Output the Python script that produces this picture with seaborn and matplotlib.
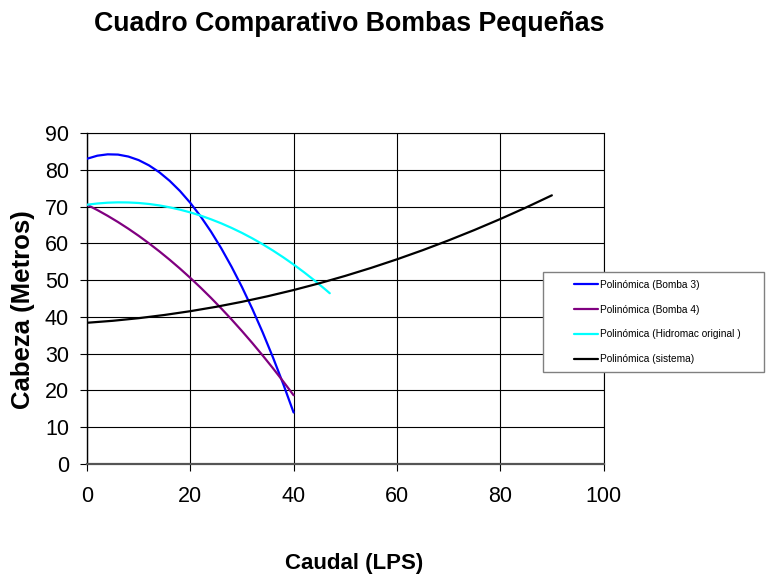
import matplotlib
matplotlib.use("Agg")
import matplotlib.pyplot as plt
import seaborn as sns
import pandas as pd
from matplotlib.patches import Rectangle

# ---- data ----
x_b3 = [0, 2, 4, 6, 8, 10, 12, 14, 16, 18, 20, 22, 24, 26, 28, 30, 32, 34, 36, 38, 40]
y_b3 = [83.0, 83.83, 84.2, 84.13, 83.6, 82.63, 81.2, 79.33, 77.0, 74.23, 71.0,
        67.33, 63.2, 58.63, 53.6, 48.13, 42.2, 35.83, 29.0, 21.73, 14.0]

x_b4 = [0, 2, 4, 6, 8, 10, 12, 14, 16, 18, 20, 22, 24, 26, 28, 30, 32, 34, 36, 38, 40]
y_b4 = [70.5, 69.05, 67.48, 65.79, 63.98, 62.05, 60.0, 57.83, 55.54, 53.13, 50.6,
        47.95, 45.18, 42.29, 39.28, 36.15, 32.9, 29.53, 26.04, 22.43, 18.7]

x_hid = [0, 2, 4, 6, 8, 10, 12, 14, 16, 18, 20, 22, 24, 26, 28, 30, 32, 34, 36, 38,
         40, 42, 44, 46, 47]
y_hid = [70.5, 70.83, 71.05, 71.14, 71.11, 70.97, 70.7, 70.31, 69.79, 69.16, 68.41,
         67.54, 66.54, 65.43, 64.19, 62.84, 61.36, 59.76, 58.04, 56.2, 54.24, 52.16,
         49.96, 47.63, 46.43]

x_sis = [0, 5, 10, 15, 20, 25, 30, 35, 40, 45, 50, 55, 60, 65, 70, 75, 80, 85, 90]
y_sis = [38.4, 38.94, 39.65, 40.52, 41.55, 42.74, 44.1, 45.62, 47.3, 49.14, 51.15,
         53.32, 55.65, 58.14, 60.8, 63.62, 66.6, 69.74, 73.05]

series_names = ["Polinómica (Bomba 3)", "Polinómica (Bomba 4)",
                "Polinómica (Hidromac original )", "Polinómica (sistema)"]
series_colors = ["#0000FF", "#800080", "#00FFFF", "#000000"]

x_ticks = [0, 20, 40, 60, 80, 100]
y_ticks = [0, 10, 20, 30, 40, 50, 60, 70, 80, 90]

title_text = "Cuadro Comparativo Bombas Pequeñas"
x_label = "Caudal (LPS)"
y_label = "Cabeza (Metros)"

# ---- build long-form table ----
frames = []
for name, xs, ys in zip(series_names, [x_b3, x_b4, x_hid, x_sis],
                        [y_b3, y_b4, y_hid, y_sis]):
    frames.append(pd.DataFrame({"Caudal": xs, "Cabeza": ys, "Serie": name}))
df = pd.concat(frames, ignore_index=True)

sns.set_theme(style="white")
plt.rcParams["font.family"] = ["Liberation Sans", "DejaVu Sans"]
plt.rcParams["text.color"] = "#000000"
plt.rcParams["axes.labelcolor"] = "#000000"
plt.rcParams["xtick.color"] = "#000000"
plt.rcParams["ytick.color"] = "#000000"

fig = plt.figure(figsize=(7.68, 5.78), dpi=100)
ax = fig.add_axes([87 / 768, 1 - 464 / 578, 516.5 / 768, 331 / 578])

sns.lineplot(data=df, x="Caudal", y="Cabeza", hue="Serie", hue_order=series_names,
             palette=dict(zip(series_names, series_colors)), sort=False,
             estimator=None, linewidth=1.6, ax=ax, legend=False, zorder=3)

ax.set_xlim(0, 100)
ax.set_ylim(0, 90)
ax.set_xticks(x_ticks)
ax.set_yticks(y_ticks)
ax.grid(True, color="#000000", linewidth=0.8)
ax.set_axisbelow(True)

for s in ["top", "right"]:
    ax.spines[s].set_visible(True)
    ax.spines[s].set_color("#000000")
    ax.spines[s].set_linewidth(0.8)
ax.spines["left"].set_color("#000000")
ax.spines["left"].set_linewidth(1.0)
ax.spines["bottom"].set_color("#555555")
ax.spines["bottom"].set_linewidth(1.6)

ax.tick_params(axis="both", direction="out", length=5, width=0.8, color="#000000",
               labelsize=15.5, labelcolor="#000000", bottom=True, left=True)
ax.tick_params(axis="x", pad=11)
ax.tick_params(axis="y", pad=8)

ax.set_xlabel(x_label, fontsize=16, fontweight="bold", va="center", color="#000000")
ax.set_ylabel(y_label, fontsize=18.5, fontweight="bold", va="center", color="#000000")
ax.xaxis.set_label_coords((354 - 87) / 516.5, (464 - 563) / 331)
ax.yaxis.set_label_coords((23 - 87) / 516.5, (464 - 310) / 331)

fig.text(349 / 768, 1 - 24 / 578, title_text, ha="center", va="center",
         fontsize=19.3, fontweight="bold", color="#000000")

# legend box
box = Rectangle((543 / 768, 1 - 372 / 578), 221 / 768, 100 / 578,
                transform=fig.transFigure, facecolor="white", edgecolor="#808080",
                linewidth=1.0, zorder=4)
fig.patches.append(box)

handles = [plt.Line2D([], [], color=c, linewidth=1.6) for c in series_colors]
fig.legend(handles, series_names, loc="upper left",
           bbox_to_anchor=(574 / 768, 1 - 280 / 578), frameon=False,
           fontsize=7.3, handlelength=2.4, handletextpad=0.2, borderpad=0,
           borderaxespad=0, labelspacing=1.45, labelcolor="#000000")

fig.savefig("out.png", dpi=100)
